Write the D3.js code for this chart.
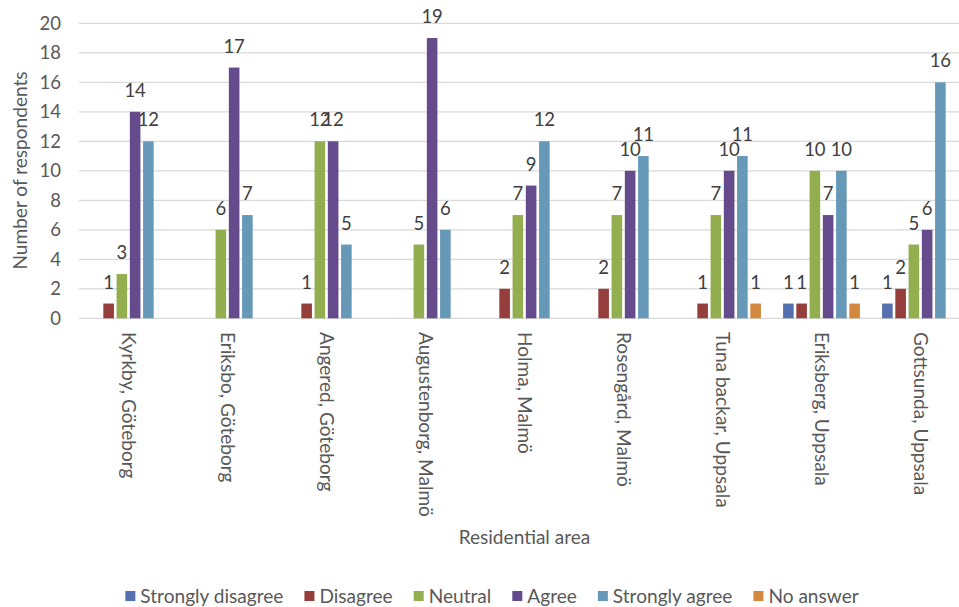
<!DOCTYPE html>
<html><head><meta charset="utf-8">
<script src="https://cdn.jsdelivr.net/npm/d3@7/dist/d3.min.js"></script>
<style>
html,body{margin:0;padding:0;background:#fff;}
svg text{font-family:Lato, "Noto Sans", sans-serif;}
</style></head>
<body><svg id="chart" width="959" height="607"></svg>
<script>
const categories = ["Kyrkby, Göteborg","Eriksbo, Göteborg","Angered, Göteborg","Augustenborg, Malmö","Holma, Malmö","Rosengård, Malmö","Tuna backar, Uppsala","Eriksberg, Uppsala","Gottsunda, Uppsala"];
const seriesNames = ["Strongly disagree","Disagree","Neutral","Agree","Strongly agree","No answer"];
const stronglyDisagree = [0,0,0,0,0,0,0,1,1];
const disagree         = [1,0,1,0,2,2,1,1,2];
const neutral          = [3,6,12,5,7,7,7,10,5];
const agree            = [14,17,12,19,9,10,10,7,6];
const stronglyAgree    = [12,7,5,6,12,11,11,10,16];
const noAnswer         = [0,0,0,0,0,0,1,1,0];
const yTicks = [0,2,4,6,8,10,12,14,16,18,20];
const colors = ["#5470b0","#953e3b","#93ae4e","#654b8b","#6699b8","#d4873e"];
const seriesValues = [stronglyDisagree,disagree,neutral,agree,stronglyAgree,noAnswer];

const svg = d3.select("#chart");

// fit Lato size to Calibri-like widths of the reference
const probe = svg.append("text").attr("font-size","20px").text("Strongly disagree Residential area");
const fs = 20 * 280 / probe.node().getComputedTextLength();
probe.remove();
const FS = fs + "px";
const NFS = Math.min(fs, 18.5) + "px";

const x0 = d3.scaleBand().domain(categories).range([79,970]).padding(0);
const x1 = d3.scaleBand().domain(seriesNames).range([-39.75,39.75]).paddingInner(0.2).paddingOuter(0.1);
const y = d3.scaleLinear().domain([0,20]).range([318.3,23.3]);
const color = d3.scaleOrdinal().domain(seriesNames).range(colors);

// gridlines
svg.append("g").selectAll("line").data(yTicks).join("line")
  .attr("x1",79).attr("x2",970)
  .attr("y1",d=>y(d)).attr("y2",d=>y(d))
  .attr("stroke","#d9d9d9").attr("stroke-width",1.3);

// y axis labels
const yAxis = d3.axisLeft(y).tickValues(yTicks).tickSize(0).tickPadding(0);
const ga = svg.append("g").attr("transform","translate(61,0)").call(yAxis);
ga.select(".domain").remove();
ga.selectAll("text").attr("font-size",NFS).attr("fill","#595959").attr("font-family","Lato");

// bars
const rows = [];
categories.forEach((c,i)=>seriesNames.forEach((s,j)=>rows.push({c,s,v:seriesValues[j][i]})));
const groups = svg.append("g");
groups.selectAll("rect").data(rows.filter(d=>d.v>0)).join("rect")
  .attr("x",d=>x0(d.c)+x0.bandwidth()/2+x1(d.s))
  .attr("width",x1.bandwidth())
  .attr("y",d=>y(d.v))
  .attr("height",d=>y(0)-y(d.v))
  .attr("fill",d=>color(d.s));

// value labels
groups.selectAll("text").data(rows.filter(d=>d.v>0)).join("text")
  .attr("x",d=>x0(d.c)+x0.bandwidth()/2+x1(d.s)+x1.bandwidth()/2)
  .attr("y",d=>y(d.v)-15)
  .attr("text-anchor","middle")
  .attr("font-size",NFS).attr("fill","#404040")
  .text(d=>d.v);

// x category labels
svg.append("g").selectAll("text").data(categories).join("text")
  .attr("transform",d=>`translate(${x0(d)+x0.bandwidth()/2},332) rotate(90)`)
  .attr("text-anchor","start").attr("dy","0.35em")
  .attr("font-size",FS).attr("fill","#595959")
  .text(d=>d);

// axis titles
svg.append("text").attr("x",524.5).attr("y",537).attr("dy","0.35em").attr("text-anchor","middle")
  .attr("font-size",FS).attr("fill","#595959").text("Residential area");
svg.append("text").attr("transform","translate(20,170.5) rotate(-90)").attr("dy","0.35em").attr("text-anchor","middle")
  .attr("font-size",FS).attr("fill","#595959").text("Number of respondents");

// legend
const leg = svg.append("g");
const items = leg.selectAll("g").data(seriesNames).join("g");
items.append("rect").attr("width",10).attr("height",10).attr("y",-5).attr("fill",d=>color(d));
items.append("text").attr("x",15).attr("dy","0.35em").attr("font-size",FS).attr("fill","#595959").text(d=>d);
const widths = [];
items.each(function(){ widths.push(d3.select(this).select("text").node().getComputedTextLength()+15); });
const gap = 21;
const total = d3.sum(widths) + gap*(widths.length-1);
let start = 492 - total/2;
items.attr("transform",(d,i)=>{ const t=`translate(${start},596)`; start += widths[i]+gap; return t; });
</script>
</body></html>
